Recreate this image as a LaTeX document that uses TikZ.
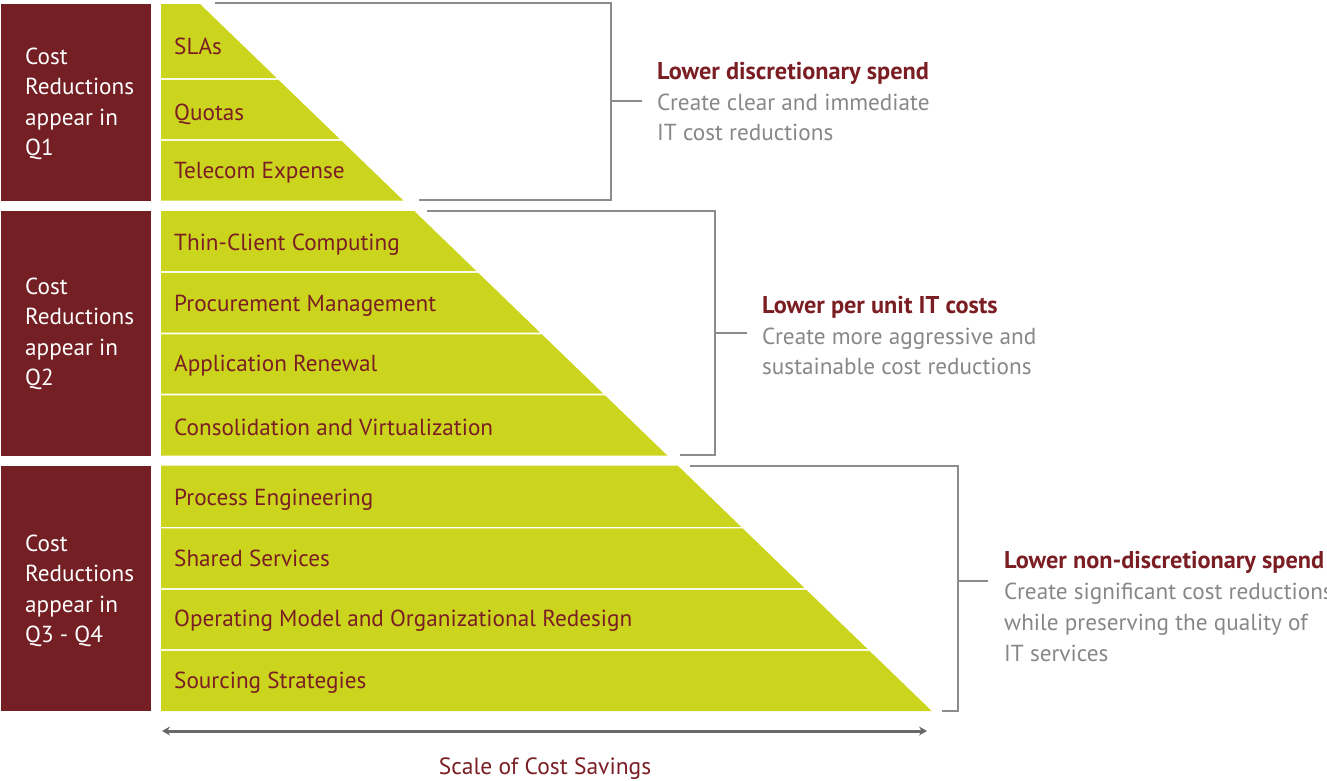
\documentclass[tikz,border=0pt]{standalone}
\usepackage{fontspec}
\setmainfont{PT Sans}
\usetikzlibrary{arrows.meta}

\definecolor{boxred}{RGB}{115,31,36}
\definecolor{lime}{RGB}{203,213,30}
\definecolor{labelred}{RGB}{122,30,36}
\definecolor{notegray}{RGB}{135,135,138}
\definecolor{rulegray}{RGB}{140,140,142}
\definecolor{axisgray}{RGB}{105,105,108}

\begin{document}
\begin{tikzpicture}[x=1pt,y=-1pt,
  quarterbox/.style={fill=boxred},
  boxtext/.style={anchor=base west,inner sep=0pt,text=white,
    font=\fontsize{23.2}{28}\selectfont},
  rowlabel/.style={anchor=base west,inner sep=0pt,text=labelred,
    font=\fontsize{23.2}{28}\selectfont},
  bracket/.style={draw=rulegray,line width=1.8pt},
  notehead/.style={anchor=base west,inner sep=0pt,text=labelred,
    font=\fontsize{24.3}{28}\selectfont\bfseries},
  notetext/.style={anchor=base west,inner sep=0pt,text=notegray,
    font=\fontsize{23.2}{28}\selectfont},
  axis/.style={draw=axisgray,line width=3pt,
    {Stealth[length=8pt,width=9pt]}-{Stealth[length=8pt,width=9pt]}},
  axislabel/.style={anchor=base,inner sep=0pt,text=labelred,
    font=\fontsize{23.5}{28}\selectfont}
]
\useasboundingbox (0,0) rectangle (1327,780);

% quarter boxes on the left
\fill[quarterbox] (1,4) rectangle (151,200.5);
\fill[quarterbox] (1,211) rectangle (151,455.5);
\fill[quarterbox] (1,465.5) rectangle (151,711);
\foreach \nm/\top/\q in {q1/64/Q1, q2/294/Q2, q3/551/Q3 - Q4}{
  \node[boxtext] (\nm a) at (25,\top) {Cost};
  \node[boxtext] (\nm b) at (25,\top+30.5) {Reductions};
  \node[boxtext] (\nm c) at (25,\top+61) {appear in};
  \node[boxtext] (\nm d) at (25,\top+91.5) {\q};
}

% stepped wedge of savings levers; the slanted edge follows x = 200 + 1.035 (y - 4)
\foreach \yt/\yb/\nm/\txt/\bl in {
    4/78.2/sla/SLAs/54,
    79.8/139.2/quota/Quotas/120,
    140.8/200.5/telecom/Telecom Expense/178,
    211/271.2/thin/Thin-Client Computing/250,
    272.8/332.7/procure/Procurement Management/311,
    334.3/393.7/renew/Application Renewal/371,
    395.3/455.5/consol/Consolidation and Virtualization/435,
    465.5/526.8/process/Process Engineering/505,
    528.4/588.2/shared/Shared Services/566,
    589.8/649.2/opmodel/Operating Model and Organizational Redesign/626,
    650.8/711/sourcing/Sourcing Strategies/688}{
  \fill[lime] (161,\yt) -- ({200+1.035*(\yt-4)},\yt)
    -- ({200+1.035*(\yb-4)},\yb) -- (161,\yb) -- cycle;
  \node[rowlabel] (\nm) at (174,\bl) {\txt};
}

% notes
\node[notehead] (n1h) at (657,79) {Lower discretionary spend};
\node[notetext] (n1a) at (657,110) {Create clear and immediate};
\node[notetext] (n1b) at (657,140) {IT cost reductions};

\node[notehead] (n2h) at (762,313) {Lower per unit IT costs};
\node[notetext] (n2a) at (762,344) {Create more aggressive and};
\node[notetext] (n2b) at (762,374) {sustainable cost reductions};

\node[notehead] (n3h) at (1004,568) {Lower non-discretionary spend};
\node[notetext] (n3a) at (1004,599) {Create significant cost reductions};
\node[notetext] (n3b) at (1004,630) {while preserving the quality of};
\node[notetext] (n3c) at (1004,661) {IT services};

% brackets
\coordinate (b1a) at (215,3);   \coordinate (b1b) at (611,3);
\coordinate (b1c) at (611,200); \coordinate (b1d) at (419,200);
\coordinate (b1m) at (611,101); \coordinate (b1t) at (642,101);
\draw[bracket] (b1a) -- (b1b) -- (b1c) -- (b1d);
\draw[bracket] (b1m) -- (b1t);

\coordinate (b2a) at (427,211); \coordinate (b2b) at (715,211);
\coordinate (b2c) at (715,455); \coordinate (b2d) at (680,455);
\coordinate (b2m) at (715,333); \coordinate (b2t) at (747,333);
\draw[bracket] (b2a) -- (b2b) -- (b2c) -- (b2d);
\draw[bracket] (b2m) -- (b2t);

\coordinate (b3a) at (690,466); \coordinate (b3b) at (958,466);
\coordinate (b3c) at (958,711); \coordinate (b3d) at (942,711);
\coordinate (b3m) at (958,581); \coordinate (b3t) at (988,581);
\draw[bracket] (b3a) -- (b3b) -- (b3c) -- (b3d);
\draw[bracket] (b3m) -- (b3t);

% scale axis
\coordinate (axl) at (162,731);
\coordinate (axr) at (927,731);
\draw[axis] (axl) -- (axr);
\node[axislabel] (scale) at (545,774) {Scale of Cost Savings};
\end{tikzpicture}
\end{document}
